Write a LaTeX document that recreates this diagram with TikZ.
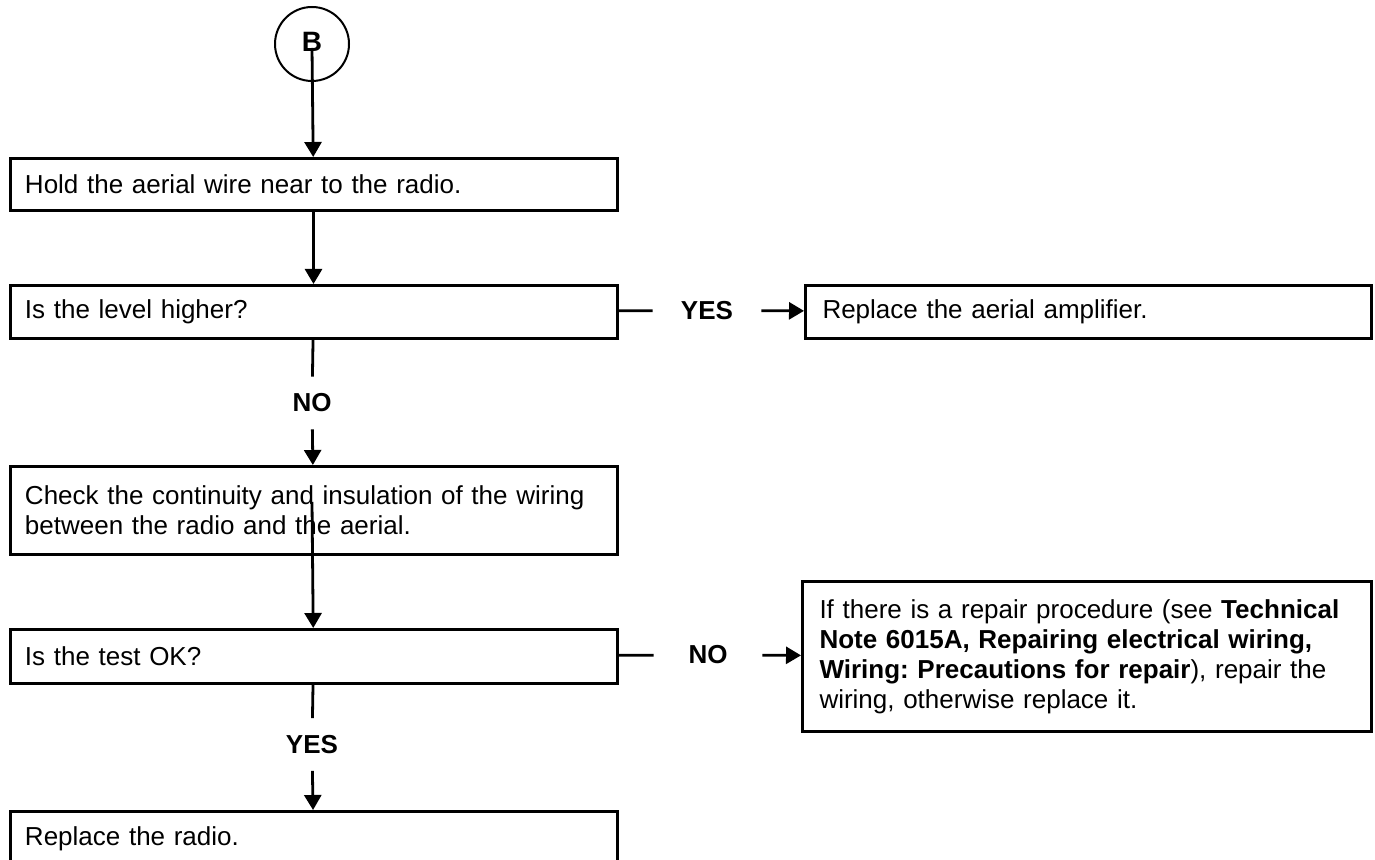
\documentclass[tikz,border=0pt]{standalone}
\usepackage{fontspec}
\setmainfont{Liberation Sans}
\usetikzlibrary{arrows.meta}
\frenchspacing

\begin{document}
\begin{tikzpicture}[x=0.5pt,y=-0.5pt,
  box/.style={draw,line width=1.5pt,anchor=north west,align=left,inner xsep=7.5pt,inner ysep=0pt,font=\fontsize{13}{15}\selectfont},
  lbl/.style={inner sep=0pt,minimum width=54pt,minimum height=26pt,font=\fontsize{13}{15}\selectfont\bfseries},
  link/.style={line width=1.4pt},
  arr/.style={line width=1.4pt,-{Triangle[length=7.5pt,width=8.5pt]}}]
\useasboundingbox (0,0) rectangle (1375,860);

% Entry connector (B)
\node[circle,draw,line width=1pt,minimum size=37pt,inner sep=0pt,font=\fontsize{14}{14}\selectfont\bfseries] (conB) at (312,44) {\raisebox{2pt}{B}};
\coordinate (conBout) at (312,48);

% Main column
\node[box,text width=288.5pt,minimum height=26pt] (hold) at (8.5,157) {Hold the aerial wire near to the radio.};
\node[box,text width=288.5pt,minimum height=26.5pt] (level) at (8.5,284) {Is the level higher?};
\node[box,text width=288.5pt,minimum height=44pt] (check) at (8.5,465) {Check the continuity and insulation of the wiring\\between the radio and the aerial.};
\node[box,text width=288.5pt,minimum height=27pt] (test) at (8.5,628) {Is the test OK?};
\node[box,text width=288.5pt,minimum height=27pt] (radio) at (8.5,810) {Replace the radio.};

% Side boxes
\node[box,text width=266pt,inner xsep=8.5pt,minimum height=26.5pt] (amp) at (804,284) {Replace the aerial amplifier.};
\node[box,text width=267.5pt,inner xsep=8.5pt,minimum height=75pt] (repair) at (801,580) {If there is a repair procedure (see \textbf{Technical}\\\textbf{Note 6015A, Repairing electrical wiring,}\\\textbf{Wiring: Precautions for repair}), repair the\\wiring, otherwise replace it.};

% Answers
\node[lbl] (no1) at (312,403) {NO};
\node[lbl] (yes2) at (312,744.5) {YES};
\node[lbl] (yes1) at (707,310.5) {YES};
\node[lbl] (no2) at (708,655) {NO};

% Connections
\coordinate (chkmid) at (312,502);
\draw[arr] (conBout) -- (hold);
\draw[arr] (hold) -- (level);
\draw[link] (level) -- (no1);
\draw[arr] (no1) -- (check);
\draw[arr] (chkmid) -- (test);
\draw[link] (test) -- (yes2);
\draw[arr] (yes2) -- (radio);
\draw[link] (level) -- (yes1);
\draw[arr] (yes1) -- (amp);
\draw[link] (test) -- (no2);
\draw[arr] (no2) -- (repair);

\end{tikzpicture}
\end{document}
